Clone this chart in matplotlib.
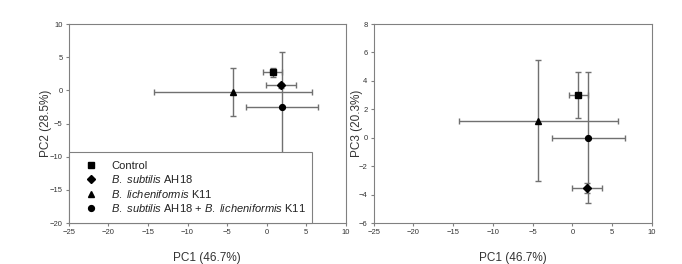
import matplotlib
matplotlib.use("Agg")
import matplotlib.pyplot as plt

plt.rcParams["font.family"] = ["Liberation Sans", "DejaVu Sans"]
plt.rcParams["mathtext.fontset"] = "custom"
plt.rcParams["mathtext.rm"] = "Liberation Sans"
plt.rcParams["mathtext.it"] = "Liberation Sans:italic"

groups = ["Control",
          r"$\it{B.\ subtilis}$ AH18",
          r"$\it{B.\ licheniformis}$ K11",
          r"$\it{B.\ subtilis}$ AH18 + $\it{B.\ licheniformis}$ K11"]
markers = ["s", "D", "^", "o"]

pc1 = [0.75, 1.8, -4.3, 2.0]
pc1_err = [1.15, 1.85, 10.0, 4.55]
pc2 = [2.7, 0.75, -0.3, -2.5]
pc2_err = [0.7, 0.4, 3.6, 8.3]
pc3 = [3.0, -3.55, 1.2, 0.0]
pc3_err = [1.6, 0.35, 4.25, 4.6]

fig = plt.figure(figsize=(6.82, 2.64), dpi=100)
ax1 = fig.add_axes([0.101, 0.155, 0.406, 0.754])
ax2 = fig.add_axes([0.548, 0.155, 0.408, 0.754])

ecol = "#707070"
for ax, yv, ye in [(ax1, pc2, pc2_err), (ax2, pc3, pc3_err)]:
    for i in range(4):
        ax.errorbar(pc1[i], yv[i], xerr=pc1_err[i], yerr=ye[i], fmt="none",
                    ecolor=ecol, elinewidth=1.0, capsize=2.5, capthick=1.0, zorder=2)
        ax.plot(pc1[i], yv[i], marker=markers[i], color="black", ms=4.2 if i != 1 else 3.8,
                linestyle="none", label=groups[i], zorder=3)
    ax.set_xlim(-25, 10)
    ax.set_xticks(range(-25, 11, 5))
    for s in ax.spines.values():
        s.set_color("#808080")
        s.set_linewidth(0.8)
    ax.tick_params(labelsize=5.5, length=2.5, width=0.8, color="#808080",
                   labelcolor="#333333", pad=2)
    ax.set_xlabel("PC1 (46.7%)", fontsize=8.5, color="#333333", labelpad=11)

ax1.set_ylim(-20, 10)
ax1.set_yticks(range(-20, 11, 5))
ax1.set_ylabel("PC2 (28.5%)", fontsize=8.5, color="#333333", labelpad=-1.5)

ax2.set_ylim(-6, 8)
ax2.set_yticks(range(-6, 9, 2))
ax2.set_ylabel("PC3 (20.3%)", fontsize=8.5, color="#333333", labelpad=-3)

leg = ax1.legend(loc="lower left", bbox_to_anchor=(0, 0, 0.877, 0.362), mode="expand",
                 borderaxespad=0, fontsize=8, frameon=True, fancybox=False,
                 framealpha=1, handlelength=2.4, handletextpad=0.6,
                 labelspacing=0.23, borderpad=0.8)
leg.get_frame().set_edgecolor("#808080")
leg.get_frame().set_linewidth(0.8)
leg.set_zorder(5)
for t in leg.get_texts():
    t.set_color("#222222")

fig.savefig("out.png", dpi=100)
